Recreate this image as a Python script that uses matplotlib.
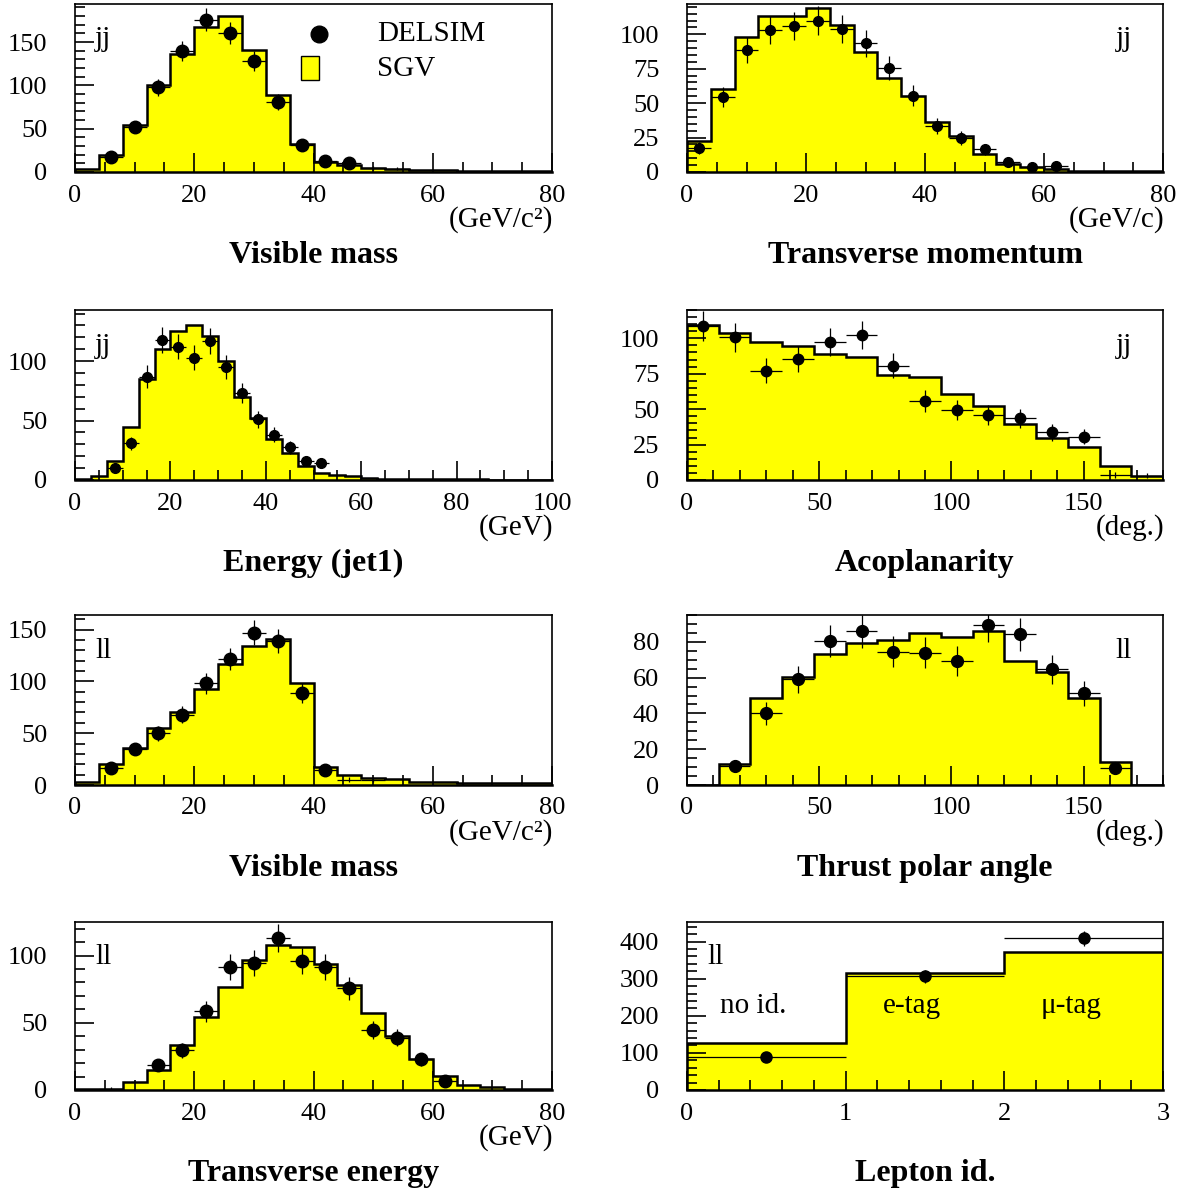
import numpy as np
import matplotlib.pyplot as plt
from matplotlib.ticker import MultipleLocator
from matplotlib.patches import Rectangle

plt.rcParams['font.family'] = ['Liberation Serif', 'DejaVu Serif']

nan = np.nan

# Visible mass (jj), 0-80 GeV/c2, 4 GeV bins
vmjj_sgv = [3, 20, 54, 100, 136, 168, 180, 141, 89, 32, 12, 8.5, 4.6, 3, 2, 2, 1, 1, 1, 1]
vmjj_delsim = [nan, 17, 52, 98, 140, 176, 160, 128, 81, 31, 13, 10,
               nan, nan, nan, nan, nan, nan, nan, nan]
vmjj_tail = [nan] * 12 + [5, 4] + [nan] * 6

# Transverse momentum (jj), 0-80 GeV/c
tmjj_sgv = [22.4, 60, 98, 113.5, 113, 119, 107, 87, 68, 55, 36.6, 26, 13, 6, 3.6, 2.4,
            0.5, 0.5, 0.5, 0.5]
tmjj_delsim = [17.6, 54.5, 88.7, 103, 106, 110, 103.6, 93.5, 75.7, 55.4, 33.7, 24.6, 16.6,
               7.5, 3.9, 4, nan, nan, nan, nan]

# Energy of jet 1 (jj), 0-100 GeV, 30 bins
ejjj_sgv = [0.5, 3, 16, 45, 85, 110, 125, 130.6, 121, 100, 70, 52, 34.5, 23, 12, 6, 4.5,
            3.4, 2, 1.2, 1, 0.8, 0.8, 0.6, 0.6, 0.5, 0.4, 0.3, 0.3, 0.3]
ejjj_delsim = [nan, nan, 10, 31, 87, 118, 112, 103, 117, 95, 73, 51, 38, 27.5, 16, 14] + [nan] * 14

# Acoplanarity (jj), 0-180 deg
acjj_sgv = [109.4, 103.5, 97.4, 94.6, 88.7, 86.6, 73.9, 72.5, 60.5, 52.2, 39.5, 29.4, 23, 10, 3]
acjj_delsim = [108.7, 100.7, 77.2, 85.4, 97.6, 102.4, 80.7, 55.8, 49.4, 45.9, 43.5, 33.6,
               30.6, nan, nan]
acjj_tail = [nan] * 13 + [3.5, 3]

# Visible mass (ll)
vmll_sgv = [3.2, 20, 36, 55, 70, 93, 117, 134.5, 140.6, 98, 17, 10, 7, 6, 3, 3, 2, 2, 1.5, 1.5]
vmll_delsim = [nan, 16, 34.5, 50, 68, 98, 121.6, 147, 138.7, 88.7, 14.5] + [nan] * 9
vmll_tail = [nan] * 11 + [5, 5] + [nan] * 7

# Thrust polar angle (ll)
thll_sgv = [0, 11.7, 48.4, 60.5, 73.1, 79.4, 80.9, 85.2, 82.8, 86, 69.2, 63.3, 48.4, 13, 0]
thll_delsim = [nan, 10.8, 40, 59, 80.4, 86, 74.4, 73.9, 69.2, 89.3, 84.2, 64.6, 51.2, 9.3, nan]

# Transverse energy (ll)
tell_sgv = [0.5, 1, 5.7, 15, 33.6, 54.6, 76.5, 97, 107.7, 106.4, 93.8, 78, 57, 40.2, 23,
            10.6, 4, 2, 1, 1]
tell_delsim = [nan, nan, nan, 18.5, 29.6, 58.5, 91.4, 94.6, 113, 95.8, 91.6, 75.6, 44.7,
               38.8, 23, 6.4, nan, nan, nan, nan]
tell_tail = [nan, 1] + [nan] * 18

# Lepton id (ll)
lid_sgv = [126, 315.5, 373]
lid_delsim = [89, 306.7, 409]
lid_names = ['no id.', 'e-tag', '\u03bc-tag']

YELLOW = '#ffff00'
TICK = 19
BIG = 21
TITLE = 23


def draw(ax, lo, hi, sgv, delsim, ms, ymax, xmaj, xmin, ymaj, ymin, unit, title,
         tag, tag_right=False, tail=None):
    sgv = np.asarray(sgv, float)
    edges = np.linspace(lo, hi, len(sgv) + 1)
    centers = 0.5 * (edges[:-1] + edges[1:])
    half = 0.5 * (edges[1] - edges[0])
    ax.stairs(sgv, edges, fill=True, color=YELLOW, zorder=1)
    ax.stairs(sgv, edges, color='black', lw=1.8, zorder=2)

    d = np.asarray(delsim, float)
    ok = ~np.isnan(d)
    ax.errorbar(centers[ok], d[ok], xerr=half, yerr=np.sqrt(d[ok]), fmt='o', color='black',
                ms=ms, elinewidth=0.9, capsize=0, zorder=3)
    if tail is not None:
        t = np.asarray(tail, float)
        ok = ~np.isnan(t)
        ax.errorbar(centers[ok], t[ok], xerr=half, yerr=np.sqrt(t[ok]), fmt='none',
                    ecolor='black', elinewidth=0.9, capsize=0, zorder=3)

    ax.set_xlim(lo, hi)
    ax.set_ylim(0, ymax)
    ax.xaxis.set_major_locator(MultipleLocator(xmaj))
    ax.xaxis.set_minor_locator(MultipleLocator(xmin))
    ax.yaxis.set_major_locator(MultipleLocator(ymaj))
    ax.yaxis.set_minor_locator(MultipleLocator(ymin))
    ax.tick_params(which='both', direction='in', top=False, right=False, width=1.2,
                   labelsize=TICK)
    ax.tick_params(which='major', length=14)
    ax.tick_params(which='minor', length=7)
    ax.tick_params(axis='x', pad=9)
    ax.tick_params(axis='y', pad=20)
    for s in ax.spines.values():
        s.set_linewidth(1.2)
    ax.spines['bottom'].set_linewidth(1.8)

    if unit:
        ax.annotate(unit, xy=(1, 0), xycoords='axes fraction', xytext=(1, -34),
                    textcoords='offset points', ha='right', va='center', fontsize=BIG)
    ax.annotate(title, xy=(0.5, 0), xycoords='axes fraction', xytext=(0, -60),
                textcoords='offset points', ha='center', va='center', fontsize=TITLE,
                fontweight='bold')
    tx = 0.9 if tag_right else 0.042
    ax.text(tx, 0.79, tag, transform=ax.transAxes, va='center', ha='left', fontsize=BIG)
    return centers


fig = plt.figure(figsize=(11.96, 11.92), dpi=100)
W, H = 1196, 1192


def rect(x0, x1, y0, y1):
    return [x0 / W, 1 - y1 / H, (x1 - x0) / W, (y1 - y0) / H]


LX = (75, 552)
RX = (687, 1163)
ROWS = [(4, 172), (310, 480), (615, 785), (922, 1090)]

ax1 = fig.add_axes(rect(*LX, *ROWS[0]))
draw(ax1, 0, 80, vmjj_sgv, vmjj_delsim, 9, 194, 20, 5, 50, 10, '(GeV/c\u00b2)',
     'Visible mass', 'jj', tail=vmjj_tail)
# legend drawn by hand, ROOT style
ax1.plot([0.5115], [0.822], 'o', color='black', ms=12, transform=ax1.transAxes)
ax1.add_patch(Rectangle((0.474, 0.55), 0.038, 0.14, transform=ax1.transAxes,
                        facecolor=YELLOW, edgecolor='black', lw=1))
ax1.text(0.633, 0.822, 'DELSIM', transform=ax1.transAxes, va='center', fontsize=BIG)
ax1.text(0.633, 0.615, 'SGV', transform=ax1.transAxes, va='center', fontsize=BIG)

ax2 = fig.add_axes(rect(*RX, *ROWS[0]))
draw(ax2, 0, 80, tmjj_sgv, tmjj_delsim, 7, 122, 20, 5, 25, 5, '(GeV/c)',
     'Transverse momentum', 'jj', tag_right=True)

ax3 = fig.add_axes(rect(*LX, *ROWS[1]))
draw(ax3, 0, 100, ejjj_sgv, ejjj_delsim, 7, 143, 20, 5, 50, 10, '(GeV)',
     'Energy (jet1)', 'jj')

ax4 = fig.add_axes(rect(*RX, *ROWS[1]))
draw(ax4, 0, 180, acjj_sgv, acjj_delsim, 7.5, 120, 50, 10, 25, 5, '(deg.)',
     'Acoplanarity', 'jj', tag_right=True, tail=acjj_tail)

ax5 = fig.add_axes(rect(*LX, *ROWS[2]))
draw(ax5, 0, 80, vmll_sgv, vmll_delsim, 9, 164, 20, 5, 50, 10, '(GeV/c\u00b2)',
     'Visible mass', 'll', tail=vmll_tail)

ax6 = fig.add_axes(rect(*RX, *ROWS[2]))
draw(ax6, 0, 180, thll_sgv, thll_delsim, 8.5, 95, 50, 10, 20, 5, '(deg.)',
     'Thrust polar angle', 'll', tag_right=True)

ax7 = fig.add_axes(rect(*LX, *ROWS[3]))
draw(ax7, 0, 80, tell_sgv, tell_delsim, 9, 125, 20, 5, 50, 10, '(GeV)',
     'Transverse energy', 'll', tail=tell_tail)

ax8 = fig.add_axes(rect(*RX, *ROWS[3]))
c8 = draw(ax8, 0, 3, lid_sgv, lid_delsim, 8, 453, 1, 0.2, 100, 20, '',
          'Lepton id.', 'll')
for x, name in zip(c8, lid_names):
    ax8.text(x - 0.08, 226, name, ha='center', va='center', fontsize=BIG)

fig.savefig('out.png', dpi=100)
